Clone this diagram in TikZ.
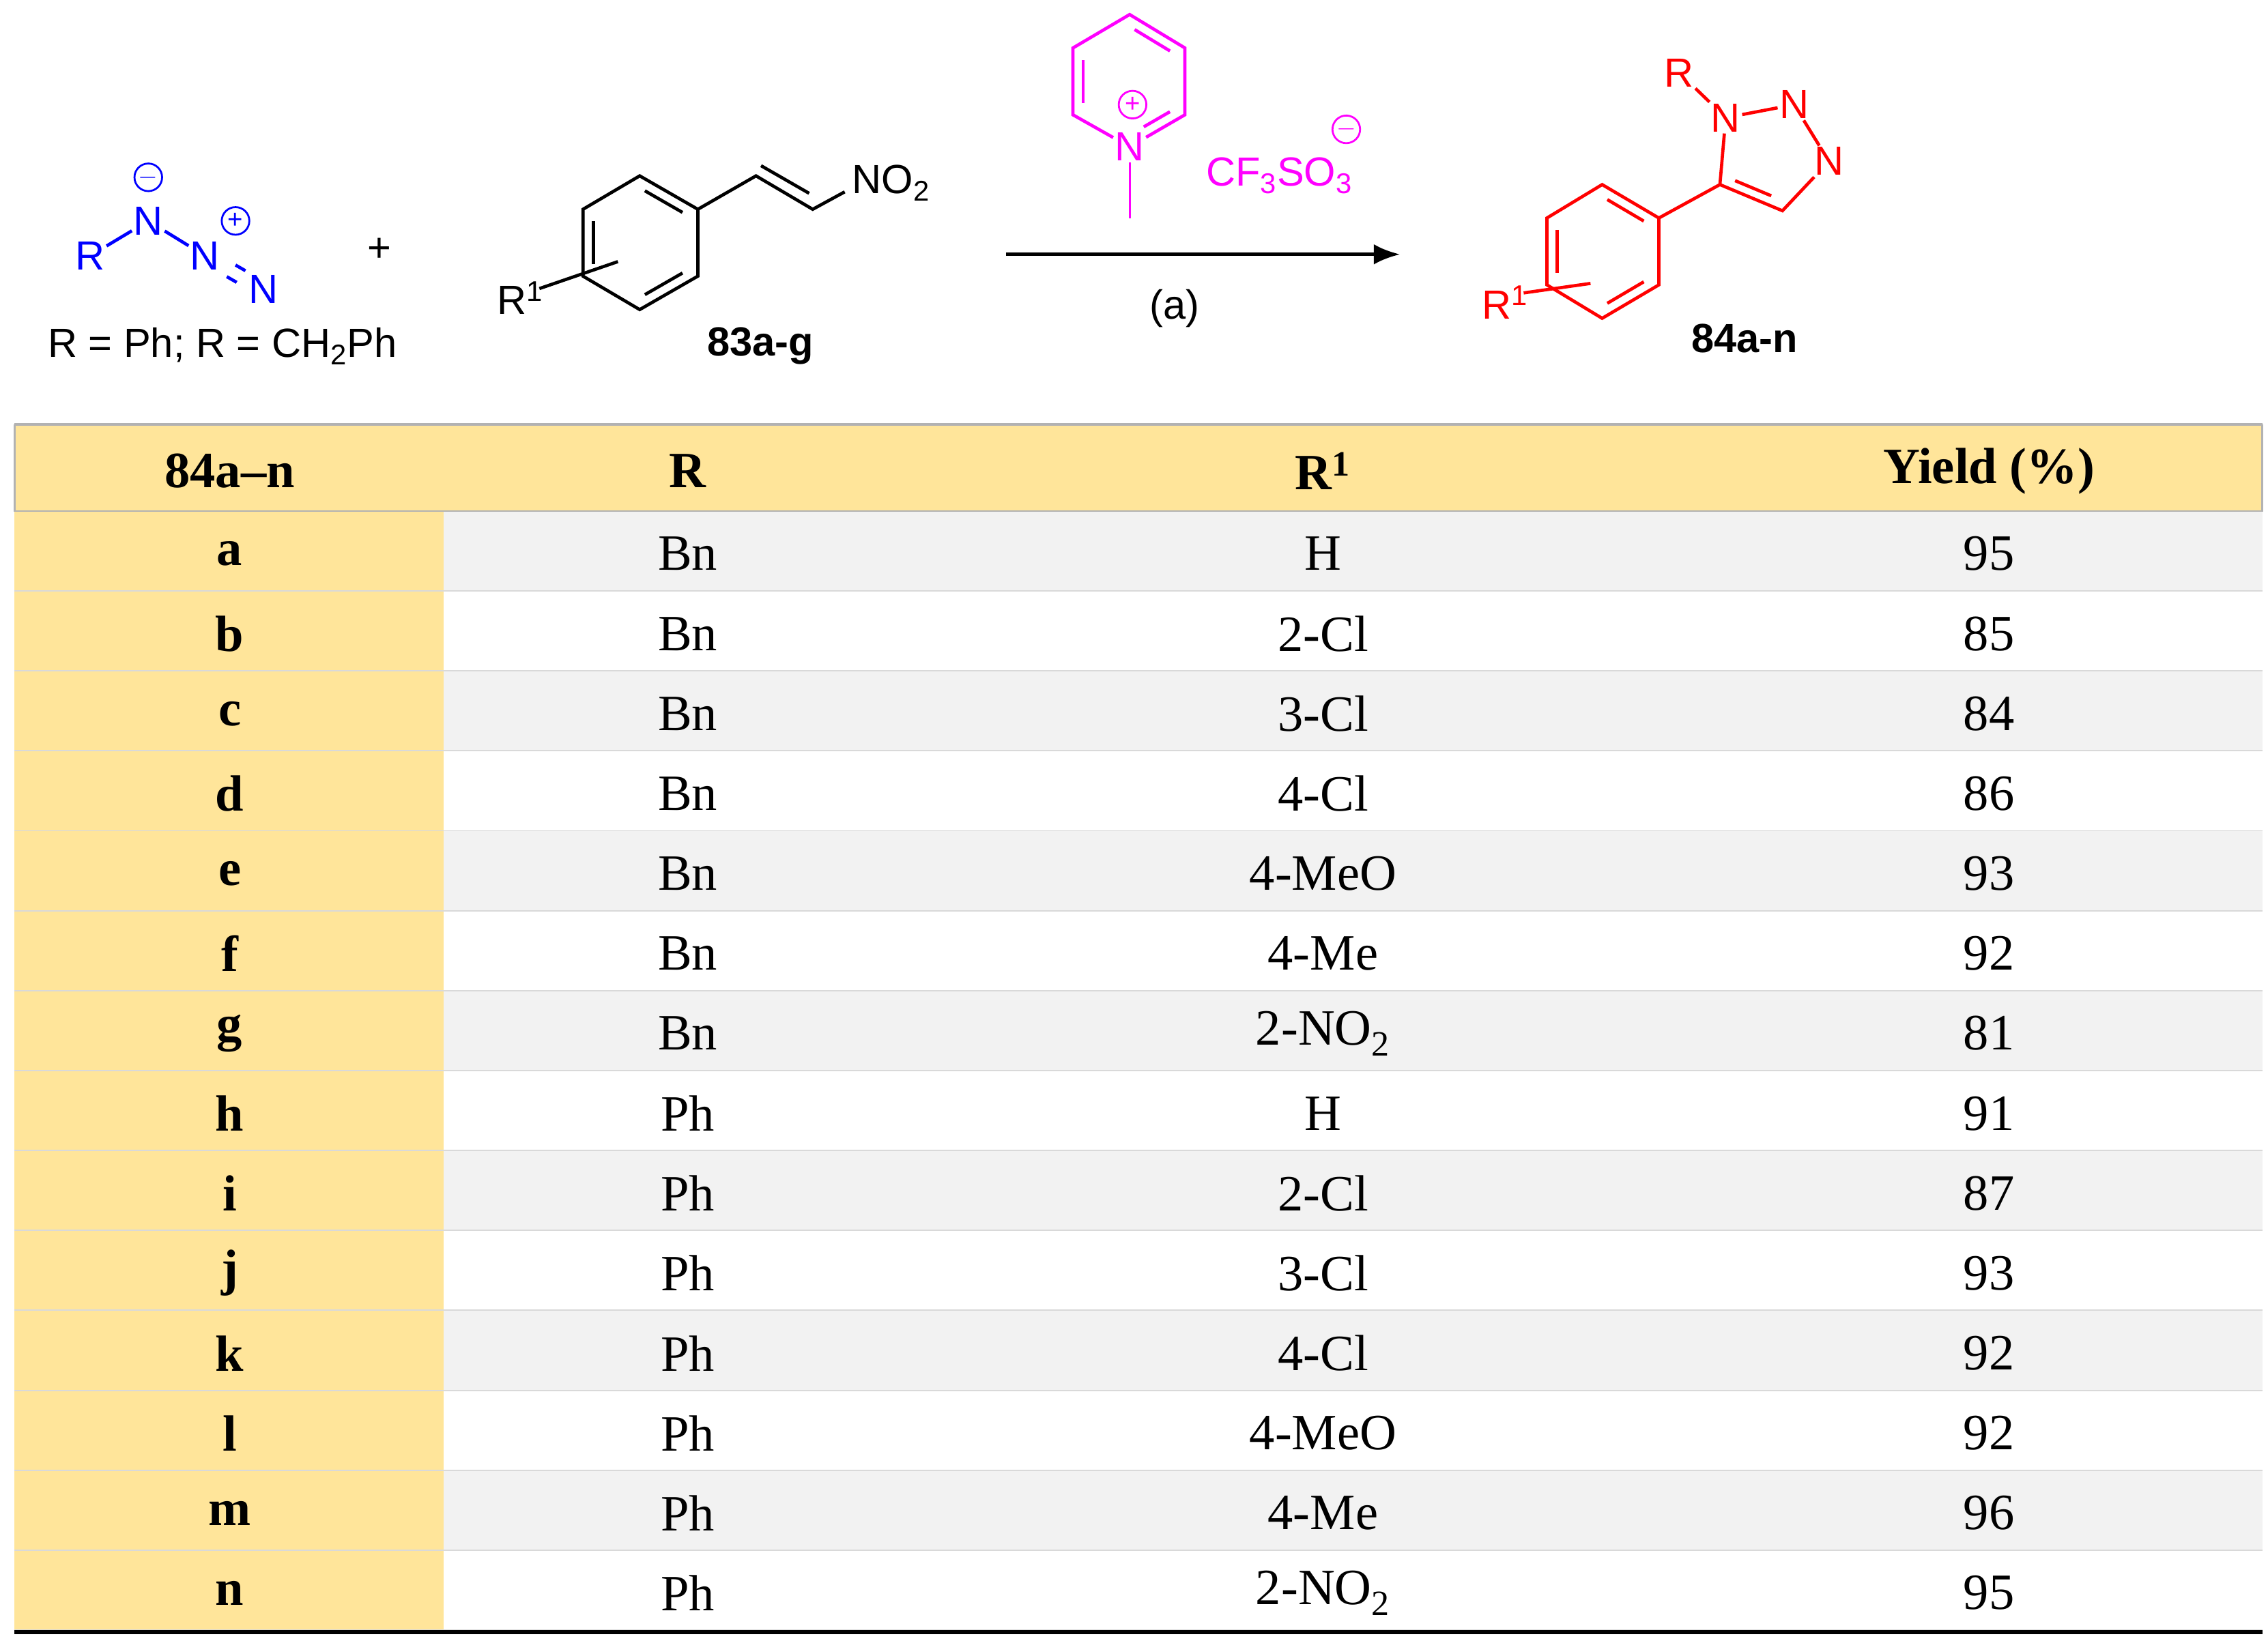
\documentclass[tikz,border=0pt]{standalone}
\usepackage{fontspec}
\setmainfont{Liberation Serif}
\newfontfamily\schemefont{Liberation Sans}
\usetikzlibrary{calc,arrows.meta}
\definecolor{hdr}{HTML}{FFE59A}
\definecolor{rowg}{HTML}{F2F2F2}
\definecolor{mag}{HTML}{FF00FF}
\tikzset{
  bond/.style={line width=2.2pt},
  dbl/.style={line width=2.2pt, shorten <=4pt, shorten >=4pt},
  atom/.style={inner sep=1pt, font=\schemefont\fontsize{28}{30}\selectfont},
  lbl/.style={inner sep=0pt, font=\schemefont\fontsize{28}{30}\selectfont},
  chg/.style={circle, draw, line width=1.3pt, minimum size=19pt, inner sep=0pt, font=\schemefont\fontsize{18}{18}\selectfont},
  cell/.style={font=\fontsize{35}{36}\selectfont, anchor=center},
  hcell/.style={font=\bfseries\fontsize{35}{36}\selectfont, anchor=center},
}
\begin{document}
\begin{tikzpicture}[x=1pt,y=-1pt]
\useasboundingbox (0,0) rectangle (1560,1129);
\fill[white] (0,0) rectangle (1560,1129);
% ---------- azide (blue)
\begin{scope}[blue]
\node[atom] (az1) at (62,176) {R};
\node[atom] (az2) at (102,152) {N};
\node[atom] (az3) at (141,176) {N};
\node[atom] (az4) at (181,199) {N};
\node[chg] (azm) at (102,122) {$-$};
\node[chg] (azp) at (162,152) {+};
\draw[bond] (az1) -- (az2);
\draw[bond] (az2) -- (az3);
\draw[bond] ($(az3)!0.45!(az4)+(3,-4)$) -- ($(az3)!0.62!(az4)+(3,-4)$);
\draw[bond] ($(az3)!0.45!(az4)+(-3,4)$) -- ($(az3)!0.62!(az4)+(-3,4)$);
\end{scope}
\node[lbl] (azlab) at (153,238) {R = Ph; R = CH\textsubscript{2}Ph};
\node[lbl] (plus) at (261,172) {+};
% ---------- nitrostyrene
\coordinate (s1) at (440,121); \coordinate (s2) at (480,144);
\coordinate (s3) at (480,190); \coordinate (s4) at (440,213);
\coordinate (s5) at (401,190); \coordinate (s6) at (401,144);
\coordinate (sc) at (440.5,167);
\draw[bond] (s1)--(s2)--(s3)--(s4)--(s5)--(s6)--cycle;
\draw[dbl] ($(s1)!0.18!(sc)$) -- ($(s2)!0.18!(sc)$);
\draw[dbl] ($(s3)!0.18!(sc)$) -- ($(s4)!0.18!(sc)$);
\draw[dbl] ($(s5)!0.18!(sc)$) -- ($(s6)!0.18!(sc)$);
\coordinate (v1) at (520,121); \coordinate (v2) at (559,144);
\node[atom,anchor=west] (no2) at (585,126) {NO\textsubscript{2}};
\draw[bond] (s2)--(v1)--(v2)--(581,132);
\draw[dbl] ($(v1)+(0,-9)$) -- ($(v2)+(1,-9)$);
\node[atom] (r1a) at (358,205) {R\textsuperscript{1}};
\coordinate (r1b) at (425,180);
\draw[bond] ($(r1a.north east)+(-4,6)$) -- (r1b);
\node[lbl,font=\schemefont\bfseries\fontsize{28}{30}\selectfont] (l83) at (523,238) {83a-g};
% ---------- pyridinium (magenta)
\begin{scope}[mag]
\coordinate (p1) at (777,10); \coordinate (p2) at (815,33);
\coordinate (p3) at (815,79); \node[atom] (pn) at (777,101) {N};
\coordinate (p5) at (738,79); \coordinate (p6) at (738,33);
\coordinate (pc) at (777,56); \coordinate (pme) at (777,150);
\draw[bond] (pn)--(p5)--(p6)--(p1)--(p2)--(p3)--(pn);
\draw[dbl] ($(p5)!0.18!(pc)$) -- ($(p6)!0.18!(pc)$);
\draw[dbl] ($(p1)!0.18!(pc)$) -- ($(p2)!0.18!(pc)$);
\coordinate (pq) at ($(p3)!0.8!(pn)$);
\draw[dbl] ($(p3)!0.18!(pc)$) -- ($(pq)!0.18!(pc)$);
\draw[line width=1.3pt] (pn) -- (pme);
\node[chg] (pplus) at (779,72) {+};
\node[lbl] (otf) at (880,121) {CF\textsubscript{3}SO\textsubscript{3}};
\node[chg] (pminus) at (926,89) {$-$};
\end{scope}
% ---------- arrow
\coordinate (aS) at (692,175); \coordinate (aE) at (963,175);
\draw[line width=2.4pt,-{Latex[length=18pt,width=14pt]}] (aS) -- (aE);
\node[lbl] (cond) at (808,212) {(a)};
% ---------- product (red)
\begin{scope}[red]
\node[atom] (tR) at (1155,50) {R};
\node[atom] (tn1) at (1187,81) {N};
\node[atom] (tn2) at (1234,72) {N};
\node[atom] (tn3) at (1258,111) {N};
\coordinate (tc4) at (1226,145); \coordinate (tc5) at (1183,127);
\coordinate (tcc) at (1210,110);
\draw[bond] (tR)--(tn1)--(tn2);
\draw[bond] (tn2)--(tn3);
\draw[bond] (tn3)--(tc4)--(tc5)--(tn1);
\draw[dbl] ($(tc4)!0.25!(tcc)$) -- ($(tc5)!0.25!(tcc)$);
\coordinate (q1) at (1141,150); \coordinate (q2) at (1102,127);
\coordinate (q3) at (1064,150); \coordinate (q4) at (1064,196);
\coordinate (q5) at (1102,219); \coordinate (q6) at (1141,196);
\coordinate (qc) at (1102.5,173);
\draw[bond] (q1)--(q2)--(q3)--(q4)--(q5)--(q6)--cycle;
\draw[bond] (q1)--(tc5);
\draw[dbl] ($(q1)!0.18!(qc)$) -- ($(q2)!0.18!(qc)$);
\draw[dbl] ($(q3)!0.18!(qc)$) -- ($(q4)!0.18!(qc)$);
\draw[dbl] ($(q5)!0.18!(qc)$) -- ($(q6)!0.18!(qc)$);
\node[atom] (r1p) at (1035,208) {R\textsuperscript{1}};
\coordinate (r1q) at (1094,195);
\draw[bond] ($(r1p.north east)+(-4,6)$) -- (r1q);
\end{scope}
\node[lbl,font=\schemefont\bfseries\fontsize{28}{30}\selectfont] (l84) at (1200,233) {84a-n};
% ---------- table
\fill[hdr] (10,292) rectangle (1556,352);
\draw[line width=1.5pt, black!30] (10,292) -- (1556,292) (10,292) -- (10,352) (1556,292)--(1556,352) (10,352)--(1556,352);
\foreach \i in {0,...,13}{
  \pgfmathsetmacro{\yt}{352+55*\i}
  \pgfmathsetmacro{\yb}{407+55*\i}
  \fill[hdr] (10,\yt) rectangle (305,\yb);
  \ifodd\i\relax \fill[white] (305,\yt) rectangle (1556,\yb);
  \else \fill[rowg] (305,\yt) rectangle (1556,\yb); \fi
  \draw[line width=1.8pt, black!15] (10,\yb) -- (1556,\yb);
}
\draw[line width=3pt] (10,1123) -- (1556,1123);
\node[hcell] (h1) at (158,324) {84a–n};
\node[hcell] (h2) at (473,324) {R};
\node[hcell] (h3) at (910,324) {R\textsuperscript{1}};
\node[hcell] (h4) at (1368,324) {Yield (\%)};
\foreach \lt/\rr/\ss/\yy [count=\i from 0] in {a/Bn/H/95, b/Bn/2-Cl/85, c/Bn/3-Cl/84, d/Bn/4-Cl/86, e/Bn/4-MeO/93, f/Bn/4-Me/92, g/Bn/2-NO\textsubscript{2}/81, h/Ph/H/91, i/Ph/2-Cl/87, j/Ph/3-Cl/93, k/Ph/4-Cl/92, l/Ph/4-MeO/92, m/Ph/4-Me/96, n/Ph/2-NO\textsubscript{2}/95}{
  \pgfmathsetmacro{\yc}{352+55*\i+29}
  \node[hcell] (ca\i) at (158,\yc) {\lt};
  \node[cell] (cb\i) at (473,\yc) {\rr};
  \node[cell] (cc\i) at (910,\yc) {\ss};
  \node[cell] (cd\i) at (1368,\yc) {\yy};
}
\end{tikzpicture}
\end{document}
